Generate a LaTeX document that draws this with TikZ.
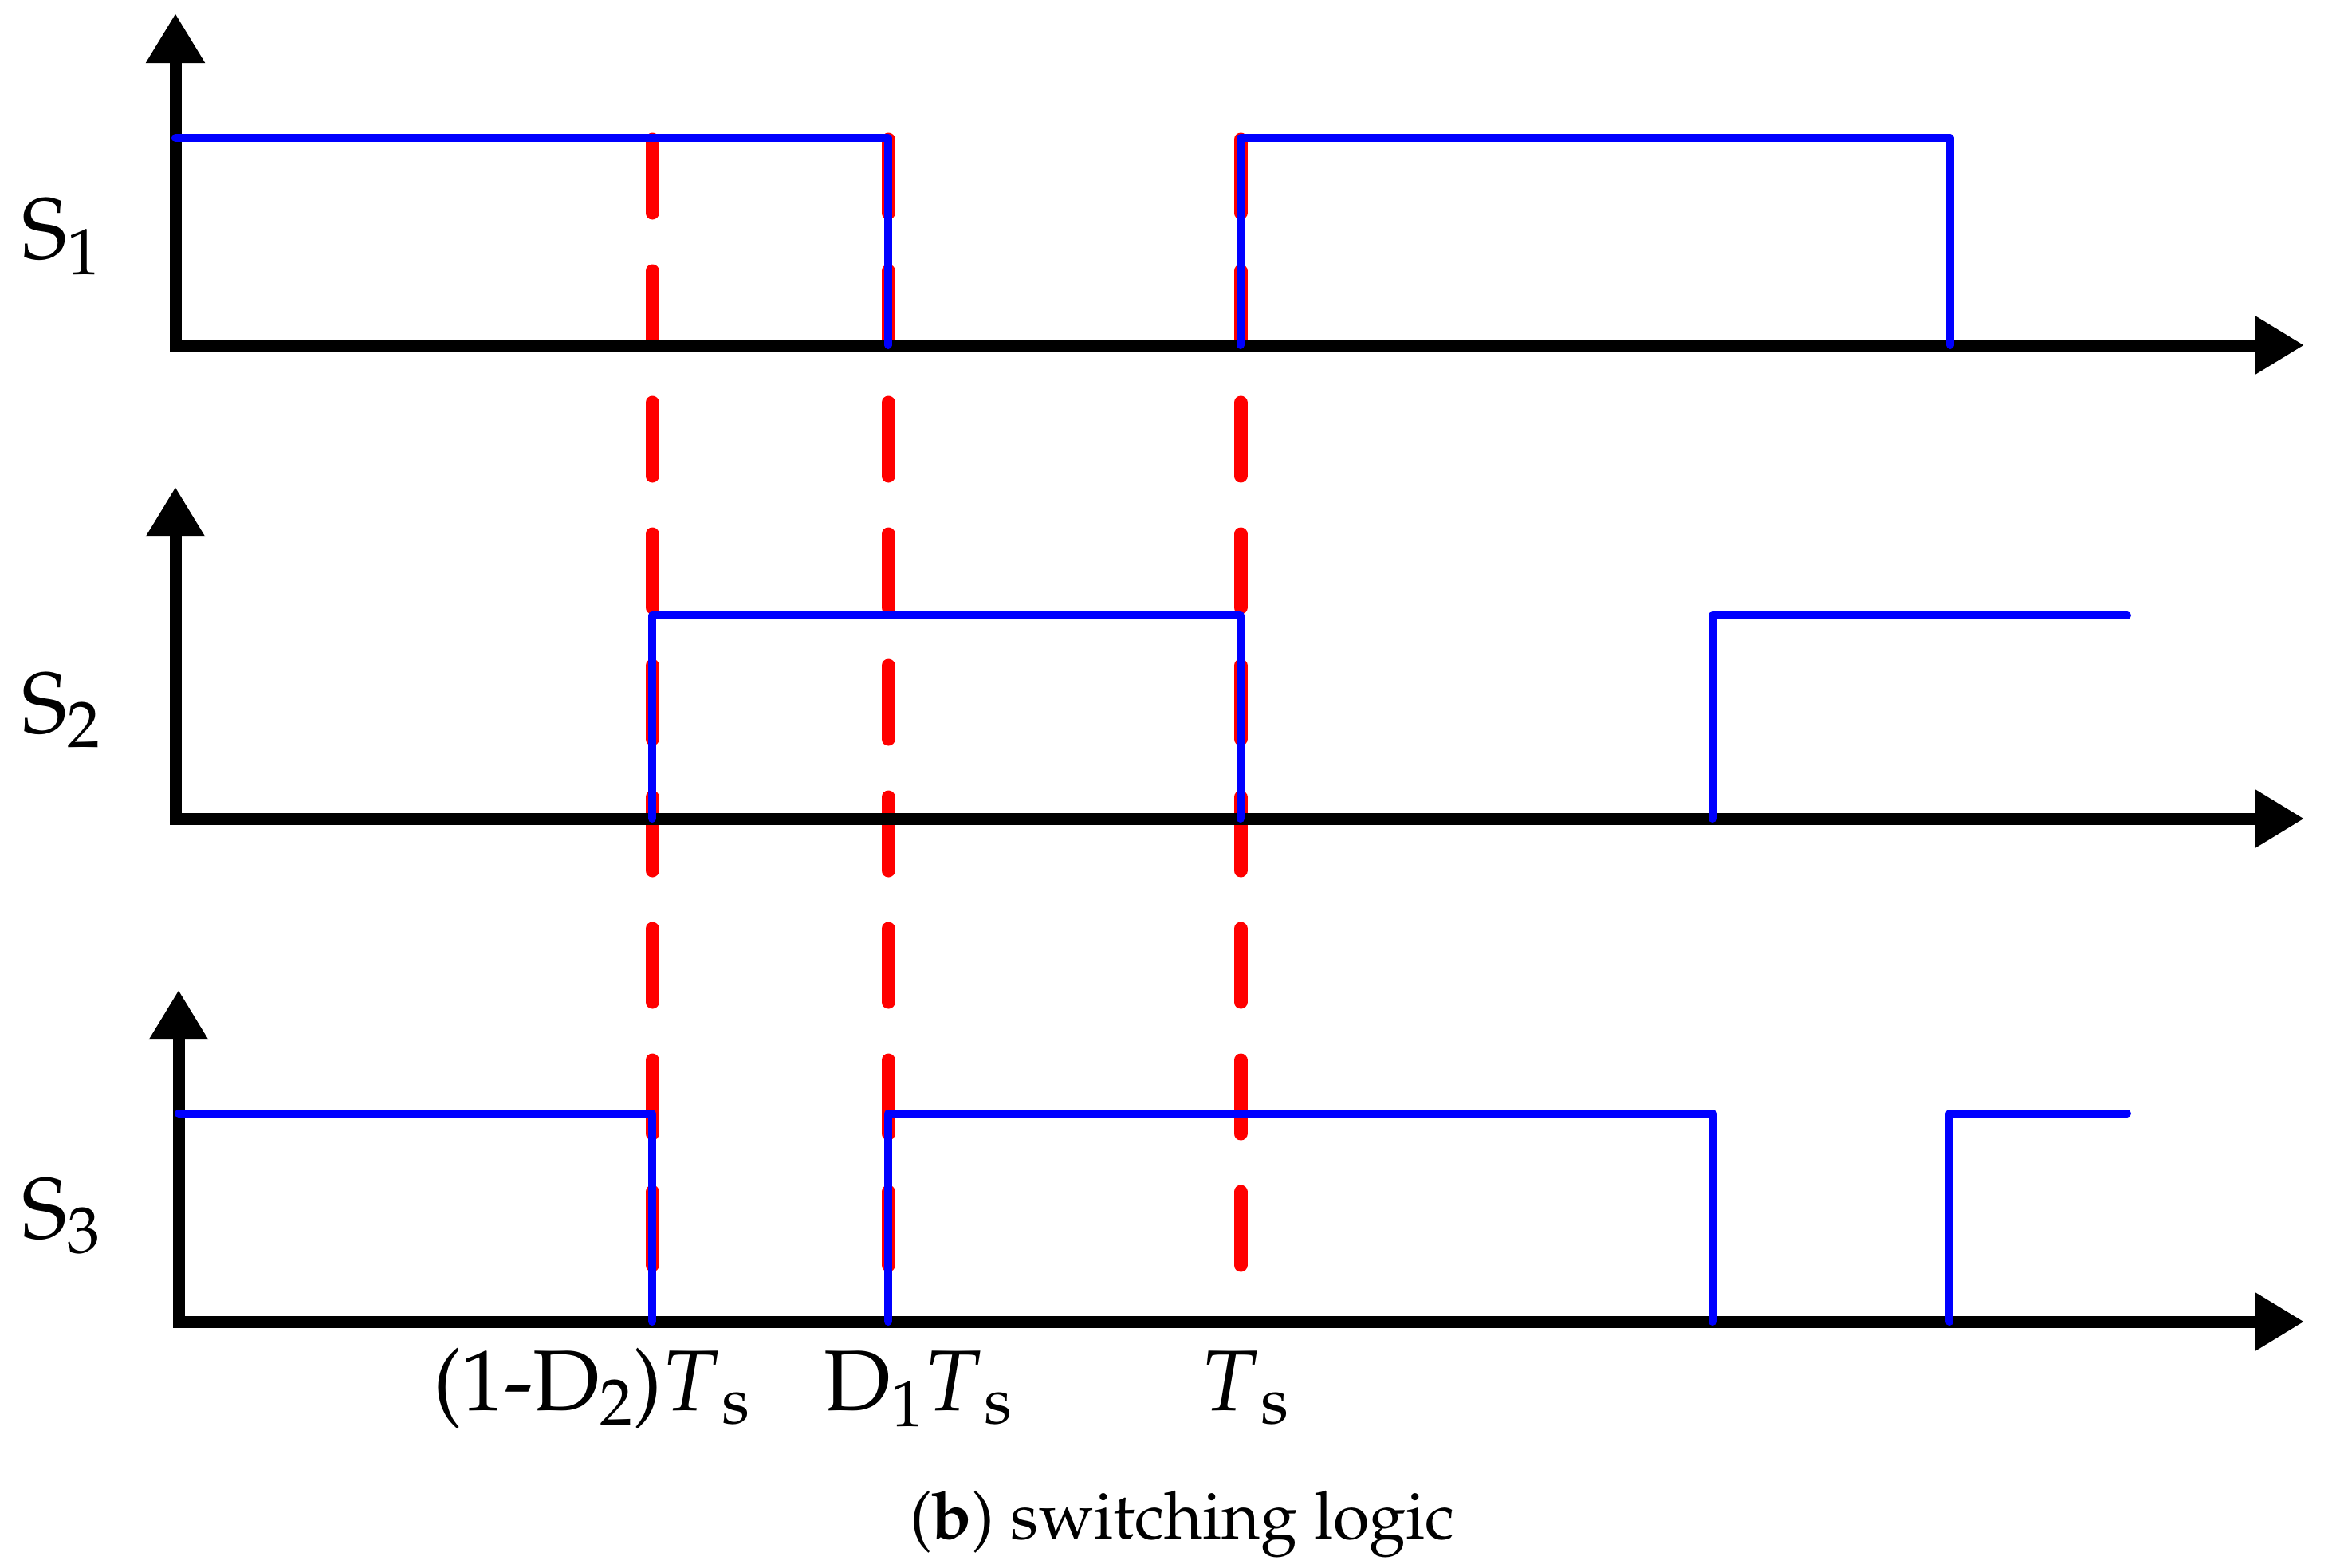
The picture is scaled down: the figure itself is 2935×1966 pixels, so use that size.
\documentclass[tikz,border=0pt]{standalone}
\usepackage[T1]{fontenc}
\usepackage{mathpazo}
\usetikzlibrary{arrows.meta}
\definecolor{sigblue}{RGB}{0,0,255}
\definecolor{guidered}{RGB}{255,0,0}
\begin{document}
\begin{tikzpicture}[x=1pt,y=-1pt,
  axis/.style={line width=15pt, line join=miter,
    {Triangle[length=62pt,width=70pt]}-{Triangle[length=62pt,width=70pt]}},
  sig/.style={line width=10pt, draw=sigblue, line cap=round, line join=round},
  guide/.style={line width=17pt, draw=guidered, line cap=round, dash pattern=on 92pt off 73pt},
  lab/.style={inner sep=0pt, anchor=base, font=\fontsize{108}{124}\selectfont},
  captext/.style={inner sep=0pt, anchor=base, font=\fontsize{83}{99}\selectfont}
]
\useasboundingbox (0,0) rectangle (2935,1966);
% guide lines (red dashed)
\coordinate (g1a) at (818,175);  \coordinate (g1b) at (818,1590);
\coordinate (g2a) at (1114,175); \coordinate (g2b) at (1114,1590);
\coordinate (g3a) at (1556,175); \coordinate (g3b) at (1556,1590);
\draw[guide] (g1a) -- (g1b);
\draw[guide] (g2a) -- (g2b);
\draw[guide] (g3a) -- (g3b);
% axes
\foreach \ax/\bx/\by/\ty in {1/220/433/17, 2/220/1027/611, 3/224/1658/1242}{
  \coordinate (top\ax) at (\bx,\ty);
  \coordinate (org\ax) at (\bx,\by);
  \coordinate (end\ax) at (2890,\by);
  \draw[axis] (top\ax) -- (org\ax) -- (end\ax);
}
% S1
\draw[sig] (220,173) -- (1114,173) -- (1114,433);
\draw[sig] (1556,433) -- (1556,173) -- (2446,173) -- (2446,433);
% S2
\draw[sig] (818,1027) -- (818,772) -- (1556,772) -- (1556,1027);
\draw[sig] (2148,1027) -- (2148,772) -- (2668,772);
% S3
\draw[sig] (224,1397) -- (818,1397) -- (818,1658);
\draw[sig] (1114,1658) -- (1114,1397) -- (2148,1397) -- (2148,1658);
\draw[sig] (2445,1658) -- (2445,1397) -- (2668,1397);
% labels
\node[lab] (s1) at (77,324) {S$_1$};
\node[lab] (s2) at (77,919) {S$_2$};
\node[lab] (s3) at (77,1553) {S$_3$};
\node[lab] (t1) at (742,1769) {(1-D$_2$)$T_{\mkern3mu\mathrm{s}}$};
\node[lab] (t2) at (1152,1769) {D$_1$$T_{\mkern3mu\mathrm{s}}$};
\node[lab] (t3) at (1561,1769) {$T_{\mkern3mu\mathrm{s}}$};
\node[captext] (caption) at (1483,1930) {(\textbf{b}) switching logic};
\end{tikzpicture}
\end{document}
